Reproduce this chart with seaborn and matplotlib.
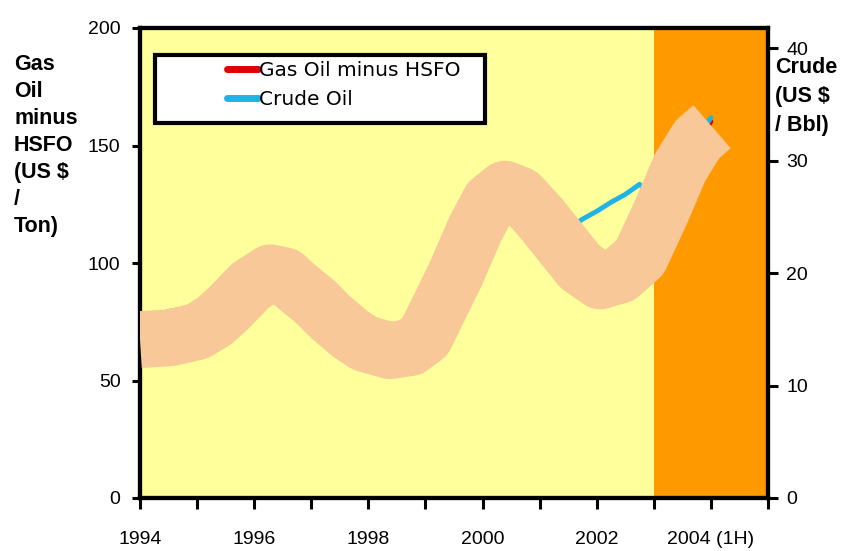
import matplotlib
matplotlib.use("Agg")
import matplotlib.pyplot as plt
from matplotlib.lines import Line2D
from matplotlib.patches import Rectangle
import pandas as pd
import seaborn as sns

# Quarterly observations
quarters = [
    1994.00, 1994.25, 1994.50, 1994.75, 1995.00, 1995.25, 1995.50, 1995.75,
    1996.00, 1996.25, 1996.50, 1996.75, 1997.00, 1997.25, 1997.50, 1997.75,
    1998.00, 1998.25, 1998.50, 1998.75, 1999.00, 1999.25, 1999.50, 1999.75,
    2000.00, 2000.25, 2000.50, 2000.75, 2001.00, 2001.25, 2001.50, 2001.75,
    2002.00, 2002.25, 2002.50, 2002.75, 2003.00, 2003.25, 2003.50, 2003.75,
    2004.00,
]
# Gas Oil minus HSFO spread, US $ / Ton (left axis)
gas_oil_minus_hsfo = [
    64.8, 65.7, 66.9, 67.8, 68.6, 72.0, 77.1, 82.6,
    88.1, 92.4, 91.1, 86.9, 82.6, 77.1, 71.2, 63.6,
    57.2, 53.6, 53.4, 56.5, 63.6, 76.3, 89.0, 102.5,
    116.5, 125.0, 127.1, 122.9, 112.3, 105.9, 99.6, 92.4,
    88.1, 86.9, 91.1, 97.5, 110.2, 125.0, 139.8, 150.4,
    160.2,
]
# Crude oil price, US $ / Bbl (right axis)
crude_oil = [
    15.9, 16.1, 16.6, 16.8, 16.1, 16.8, 17.7, 18.6,
    19.7, 20.4, 20.5, 19.5, 18.4, 17.3, 15.9, 14.9,
    13.7, 13.3, 14.2, 16.5, 17.3, 18.6, 20.8, 23.5,
    26.1, 27.6, 27.9, 27.0, 25.7, 24.4, 23.9, 24.8,
    25.5, 26.3, 27.0, 27.9, 26.6, 28.3, 30.1, 32.1,
    33.8,
]

# Broad trend ribbon, in left-axis units
trend_years = [
    1994.00, 1994.53, 1995.00, 1995.31, 1995.58, 1995.93, 1996.28, 1996.54,
    1996.75, 1997.07, 1997.33, 1997.68, 1997.94, 1998.38, 1998.73, 1998.99,
    1999.25, 1999.53, 1999.87, 2000.13, 2000.39, 2000.66, 2001.01, 2001.36,
    2001.71, 2002.06, 2002.41, 2002.76, 2003.11, 2003.46, 2003.76, 2004.02,
]
trend_values = [
    67.4, 68.2, 70.8, 75.4, 81.4, 90.3, 95.8, 94.5,
    89.8, 83.5, 77.1, 69.9, 65.7, 62.7, 64.0, 68.6,
    81.4, 95.3, 114.4, 126.3, 131.4, 128.8, 119.5, 108.9,
    98.3, 92.4, 94.9, 102.5, 120.8, 140.7, 152.5, 158.0,
]

# Axis ticks and labels
year_ticks = [1994, 1995, 1996, 1997, 1998, 1999, 2000, 2001, 2002, 2003, 2004, 2005]
year_labels = ["1994", "", "1996", "", "1998", "", "2000", "", "2002", "", "2004 (1H)", ""]
left_ticks = [0, 50, 100, 150, 200]
right_ticks = [0, 10, 20, 30, 40]
outlook_span = (2003.0, 2005.0)

series_names = ["Gas Oil minus HSFO", "Crude Oil"]
left_title = "Gas\nOil\nminus\nHSFO\n(US $\n/\nTon)"
right_title = "Crude\n(US $\n/ Bbl)"

RED = "#E00000"
CYAN = "#1EB4E6"
PEACH = "#F8C898"
YELLOW = "#FFFF9C"
ORANGE = "#FF9900"

sns.set_theme(style="white")
plt.rcParams["font.family"] = ["Liberation Sans", "DejaVu Sans"]
plt.rcParams["text.color"] = "black"
plt.rcParams["axes.labelcolor"] = "black"

W, H = 841, 551
fig = plt.figure(figsize=(W / 100, H / 100), dpi=100)
fig.patch.set_facecolor("white")
ax = fig.add_axes([140 / W, 1 - 498 / H, 628 / W, 470 / H])
ax.set_facecolor(YELLOW)
ax.axvspan(*outlook_span, color=ORANGE, lw=0, zorder=0)

df = pd.DataFrame({"year": quarters, "spread": gas_oil_minus_hsfo, "crude": crude_oil})
trend = pd.DataFrame({"year": trend_years, "value": trend_values})

sns.lineplot(data=df, x="year", y="spread", color=RED, lw=3.5, ax=ax, zorder=3)

ax2 = ax.twinx()
sns.lineplot(data=df, x="year", y="crude", color=CYAN, lw=3.5, ax=ax2, zorder=3)
sns.lineplot(data=trend, x="year", y="value", color=PEACH, lw=41, ax=ax2,
             transform=ax.transData, solid_capstyle="butt",
             solid_joinstyle="round", zorder=4)

ax.set_xlim(1994, 2005)
ax.set_ylim(0, 200)

ax.set_xticks(year_ticks)
ax.set_xticklabels(year_labels)
ax.set_yticks(left_ticks)
ax.set_yticklabels([str(v) for v in left_ticks])
ax2.set_yticks(right_ticks)
ax2.set_yticklabels([str(v) for v in right_ticks])
for a in (ax, ax2):
    a.set_xlabel("")
    a.set_ylabel("")

ax.tick_params(axis="x", bottom=True, direction="out", length=8, width=2.2,
               pad=16, labelsize=14, colors="black")
ax.tick_params(axis="y", left=True, right=False, direction="out", length=6,
               width=2.2, pad=8, labelsize=14, colors="black")
ax2.tick_params(axis="y", right=True, left=False, direction="out", length=7,
                width=2.2, pad=6, labelsize=14, colors="black")

for a in (ax, ax2):
    for s in a.spines.values():
        s.set_visible(True)
        s.set_color("black")
        s.set_linewidth(3)

# Axis titles
fig.text(14 / W, 1 - 54 / H, left_title, ha="left", va="top", color="black",
         fontsize=15.5, fontweight="bold", linespacing=1.37)
fig.text(775 / W, 1 - 57 / H, right_title, ha="left", va="top", color="black",
         fontsize=15.5, fontweight="bold", linespacing=1.5)

# Legend inside a white box
box = Rectangle((155 / W, 1 - 123 / H), 330 / W, 68 / H, transform=fig.transFigure,
                facecolor="white", edgecolor="black", lw=3, zorder=4.8)
ax2.add_patch(box)
handles = [Line2D([], [], color=RED, lw=5), Line2D([], [], color=CYAN, lw=5)]
leg = ax2.legend(handles, series_names, loc="upper left",
                 bbox_to_anchor=(227 / W, 1 - 61 / H), bbox_transform=fig.transFigure,
                 frameon=False, borderpad=0, borderaxespad=0, handlelength=1.55,
                 handletextpad=0.05, labelspacing=0.5,
                 prop={"family": "DejaVu Sans", "size": 14.5})
for t in leg.get_texts():
    t.set_color("black")
leg.set_zorder(5)

ax2.set_xlim(1994, 2005)
ax2.set_ylim(0, 41.8)

fig.savefig("out.png", dpi=100)
